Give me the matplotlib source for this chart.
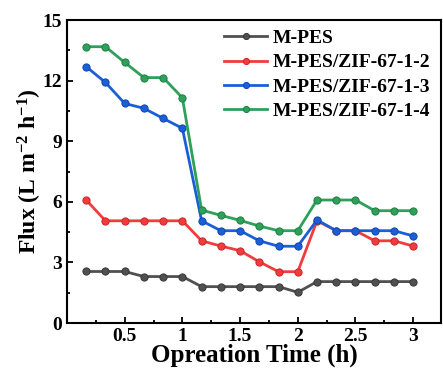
import matplotlib
matplotlib.use("Agg")
import matplotlib.pyplot as plt
from matplotlib.ticker import MultipleLocator

time_h = [1/6, 2/6, 3/6, 4/6, 5/6, 1.0, 7/6, 8/6, 9/6, 10/6, 11/6, 2.0,
          13/6, 14/6, 15/6, 16/6, 17/6, 3.0]
m_pes = [2.55, 2.55, 2.55, 2.3, 2.3, 2.3, 1.8, 1.8, 1.8, 1.8, 1.8, 1.52,
         2.05, 2.05, 2.05, 2.05, 2.05, 2.05]
zif_12 = [6.09, 5.06, 5.06, 5.06, 5.06, 5.06, 4.07, 3.81, 3.58, 3.03, 2.54, 2.54,
          5.06, 4.57, 4.57, 4.07, 4.07, 3.81]
zif_13 = [12.69, 11.91, 10.87, 10.63, 10.13, 9.64, 5.06, 4.57, 4.57, 4.07, 3.80, 3.80,
          5.10, 4.57, 4.57, 4.57, 4.57, 4.31]
zif_14 = [13.68, 13.68, 12.9, 12.15, 12.15, 11.15, 5.59, 5.33, 5.08, 4.80, 4.57, 4.57,
          6.09, 6.09, 6.09, 5.56, 5.56, 5.56]

labels = ["M-PES", "M-PES/ZIF-67-1-2", "M-PES/ZIF-67-1-3", "M-PES/ZIF-67-1-4"]
colors = ["#505050", "#f03c3c", "#1a5fd8", "#2ea05a"]
edges = ["#383838", "#c82828", "#1046b0", "#1e8046"]

plt.rcParams['font.family'] = ['Liberation Serif', 'DejaVu Serif']
plt.rcParams['mathtext.fontset'] = 'custom'
plt.rcParams['mathtext.rm'] = 'Liberation Serif:bold'
plt.rcParams['mathtext.bf'] = 'Liberation Serif:bold'
plt.rcParams['mathtext.default'] = 'bf'

fig = plt.figure(figsize=(4.43, 3.78), dpi=100)
ax = fig.add_axes([0.1512, 0.1455, 0.844, 0.8015])

for y, lab, c, e in zip([m_pes, zif_12, zif_13, zif_14], labels, colors, edges):
    ax.plot(time_h, y, '-o', color=c, lw=2.0, ms=5.2, mfc=c, mec=e, mew=0.7, label=lab)

ax.set_xlim(0, 3.24)
ax.set_ylim(0, 15)
ax.xaxis.set_major_locator(MultipleLocator(0.5))
ax.xaxis.set_minor_locator(MultipleLocator(0.25))
ax.yaxis.set_major_locator(MultipleLocator(3))
ax.yaxis.set_minor_locator(MultipleLocator(1.5))
ax.set_xticks([0.5, 1, 1.5, 2, 2.5, 3])
ax.set_xticklabels(["0.5", "1", "1.5", "2", "2.5", "3"])
ax.tick_params(which='both', direction='in', width=1.3)
ax.tick_params(which='major', length=4.5, labelsize=14)
ax.tick_params(which='minor', length=2.5)
for lbl in ax.get_xticklabels() + ax.get_yticklabels():
    lbl.set_fontweight('bold')
for s in ax.spines.values():
    s.set_linewidth(1.5)

ax.set_xlabel("Opreation Time (h)", fontsize=18, fontweight='bold', labelpad=-1)
ax.set_ylabel(r"Flux (L m$^{\mathbf{-}2}$ h$^{\mathbf{-}1}$)", fontsize=17,
              fontweight='bold', labelpad=-1)

leg = ax.legend(loc='upper left', bbox_to_anchor=(0.4, 0.995), frameon=False,
                prop={'weight': 'bold', 'size': 14}, handlelength=2.2,
                labelspacing=0.35, handletextpad=0.3, borderaxespad=0.0,
                markerscale=0.85)

fig.savefig("out.png", dpi=100)
